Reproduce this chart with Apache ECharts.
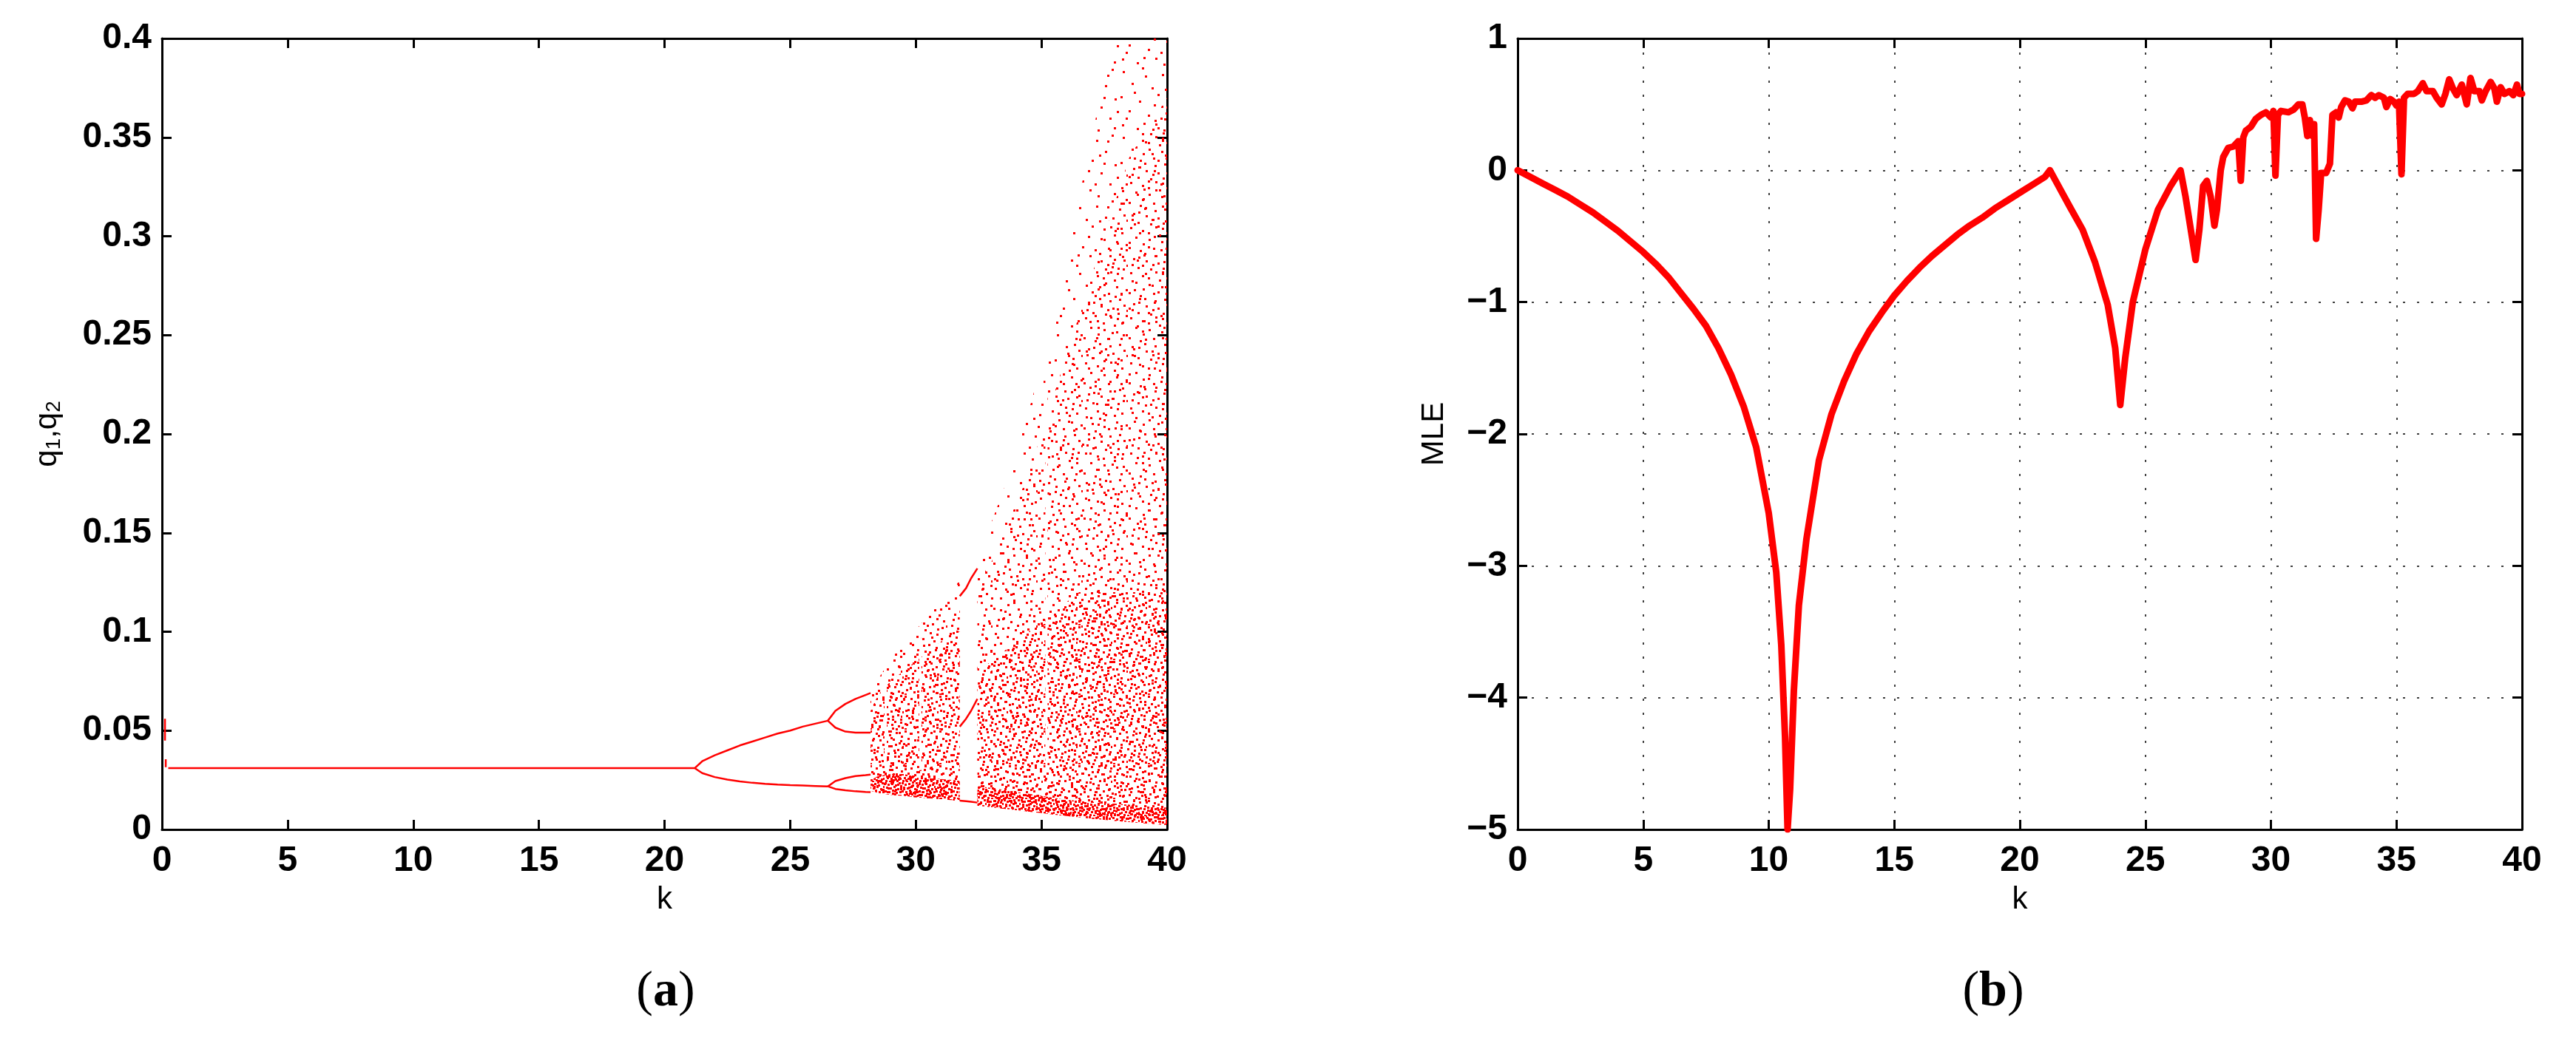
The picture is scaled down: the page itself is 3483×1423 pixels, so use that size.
<!DOCTYPE html>
<html><head><meta charset="utf-8">
<script src="https://cdn.jsdelivr.net/npm/echarts@6/dist/echarts.min.js"></script>
<style>html,body{margin:0;padding:0;background:#fff}#c{width:3483px;height:1423px}</style>
</head><body><div id="c"></div>
<script>
// ================= DATA =================
// (a) bifurcation diagram q1,q2 vs k
const fixedK = [0.25, 21.2];
const fixedQ = [0.031, 0.031];
const transientK = [0.12, 0.12, 0.15, 0.15];
const transientQ = [0.045, 0.056, 0.0315, 0.0355];
const p2K     = [21.2, 21.5, 22, 22.5, 23, 23.5, 24, 24.5, 25, 25.5, 26, 26.5];
const p2Upper = [0.031, 0.0345, 0.0375, 0.040, 0.0425, 0.0445, 0.0465, 0.0485, 0.050, 0.052, 0.0535, 0.055];
const p2Lower = [0.031, 0.0285, 0.0265, 0.0252, 0.0243, 0.0236, 0.0231, 0.0227, 0.0224, 0.0222, 0.0220, 0.0218];
const p4K      = [26.5, 26.8, 27.2, 27.6, 28.0, 28.2];
const p4UpperA = [0.055, 0.060, 0.0635, 0.066, 0.068, 0.069];
const p4UpperB = [0.055, 0.0515, 0.0495, 0.049, 0.049, 0.049];
const p4LowerA = [0.0218, 0.0245, 0.026, 0.027, 0.0275, 0.0278];
const p4LowerB = [0.0218, 0.0205, 0.0198, 0.0193, 0.019, 0.0189];
// chaotic band before the periodic window
const chaosK1     = [28.2, 28.5, 29, 29.5, 30, 30.5, 31, 31.5, 31.75];
const chaosLow1   = [0.0195, 0.0185, 0.0175, 0.017, 0.0163, 0.0158, 0.0152, 0.0148, 0.0146];
const chaosDense1 = [0.025, 0.027, 0.028, 0.028, 0.027, 0.026, 0.0255, 0.025, 0.025];
const chaosMidB1  = [0.060, 0.068, 0.075, 0.080, 0.085, 0.090, 0.095, 0.100, 0.100];
const chaosMidA1  = [0.068, 0.076, 0.086, 0.094, 0.101, 0.108, 0.115, 0.122, 0.126];
const chaosHigh1  = [0.068, 0.076, 0.086, 0.094, 0.101, 0.108, 0.115, 0.122, 0.126];
// chaotic band after the periodic window
const chaosK2     = [32.45, 33, 33.5, 34, 34.5, 35, 35.5, 36, 36.5, 37, 37.5, 38, 38.5, 39, 39.5, 40];
const chaosLow2   = [0.012, 0.0113, 0.0105, 0.0098, 0.009, 0.0083, 0.0075, 0.0068, 0.0062, 0.0055, 0.0049, 0.0043, 0.0037, 0.0032, 0.0027, 0.0022];
const chaosDense2 = [0.022, 0.021, 0.020, 0.019, 0.018, 0.017, 0.016, 0.015, 0.0145, 0.014, 0.0135, 0.013, 0.0125, 0.012, 0.0115, 0.011];
const chaosMidB2  = [0.080, 0.085, 0.090, 0.095, 0.100, 0.105, 0.110, 0.115, 0.120, 0.120, 0.120, 0.120, 0.120, 0.120, 0.120, 0.120];
const chaosMidA2  = [0.125, 0.135, 0.150, 0.165, 0.180, 0.200, 0.220, 0.240, 0.260, 0.280, 0.300, 0.320, 0.340, 0.350, 0.360, 0.370];
const chaosHigh2  = [0.140, 0.155, 0.172, 0.190, 0.212, 0.235, 0.260, 0.290, 0.320, 0.350, 0.380, 0.400, 0.400, 0.400, 0.400, 0.400];
// narrow periodic windows inside the chaotic band (k, upper q of the gap)
const gapK   = [28.8, 30.18, 35.2];
const gapTop = [0.085, 0.105, 0.24];
// main periodic window branches
const windowK    = [31.75, 32.0, 32.2, 32.45];
const windowLow  = [0.0146, 0.0143, 0.014, 0.0136];
const windowMid  = [0.052, 0.056, 0.060, 0.066];
const windowHigh = [0.118, 0.122, 0.127, 0.132];

// (b) maximal Lyapunov exponent vs k
const mleK = [0,0.5,1,1.5,2,2.5,3,3.5,4,4.5,5,5.5,6,6.5,7,7.5,8,8.5,9,9.5,
  10,10.3,10.5,10.65,10.75,10.85,11,11.2,11.5,12,12.5,13,13.5,14,14.5,15,15.5,16,16.5,17,
  17.5,18,18.5,19,19.5,20,20.5,21,21.2,
  21.6,22,22.5,23,23.5,23.8,24,24.2,24.5,25,25.5,26,26.4,
  26.6,26.85,27.0,27.15,27.3,27.45,27.6,27.75,27.85,28.0,
  28.1,28.3,28.5,28.7,28.8,28.9,29.0,29.2,29.4,29.6,
  29.8,30.0,30.1,30.18,30.28,30.4,30.7,30.9,31.1,31.25,
  31.35,31.45,31.55,31.65,31.72,31.8,31.9,32.0,32.2,32.35,
  32.45,32.6,32.7,32.8,32.95,33.1,33.25,33.35,33.6,33.8,
  34.0,34.15,34.3,34.5,34.6,34.75,34.9,35.0,35.1,35.2,
  35.3,35.45,35.7,35.85,36.05,36.2,36.45,36.6,36.8,36.95,
  37.1,37.25,37.4,37.6,37.8,37.95,38.1,38.3,38.4,38.55,
  38.75,38.9,39.0,39.15,39.3,39.5,39.65,39.8,39.9,40];
const mleV = [0,-0.05,-0.10,-0.15,-0.20,-0.26,-0.32,-0.39,-0.46,-0.54,-0.62,-0.71,-0.81,-0.93,-1.05,-1.18,-1.35,-1.55,-1.79,-2.10,
  -2.60,-3.05,-3.60,-4.30,-5.00,-4.70,-3.95,-3.30,-2.80,-2.20,-1.85,-1.60,-1.39,-1.22,-1.08,-0.95,-0.84,-0.74,-0.65,-0.57,
  -0.49,-0.42,-0.36,-0.29,-0.23,-0.17,-0.11,-0.05,0.00,
  -0.14,-0.28,-0.45,-0.70,-1.02,-1.35,-1.78,-1.42,-1.00,-0.60,-0.30,-0.12,0.00,
  -0.20,-0.50,-0.68,-0.45,-0.12,-0.08,-0.20,-0.42,-0.30,0.00,
  0.10,0.17,0.18,0.22,-0.08,0.25,0.30,0.33,0.39,0.42,
  0.44,0.40,0.45,-0.04,0.42,0.45,0.44,0.46,0.50,0.50,
  0.40,0.26,0.38,0.26,0.35,-0.52,-0.30,-0.02,-0.02,0.05,
  0.42,0.44,0.40,0.48,0.53,0.52,0.47,0.52,0.52,0.53,
  0.57,0.55,0.57,0.55,0.48,0.54,0.52,0.49,0.52,-0.03,
  0.55,0.58,0.58,0.60,0.66,0.60,0.60,0.55,0.50,0.58,
  0.69,0.62,0.57,0.65,0.50,0.70,0.60,0.60,0.53,0.60,
  0.67,0.62,0.52,0.63,0.58,0.60,0.57,0.65,0.58,0.58];

// ================= STYLE =================
const RED = '#ff0000';
const FONT = 'Liberation Sans, Arial, Helvetica, sans-serif';
const SERIF = 'Liberation Serif, Times New Roman, serif';
const zip = (xs, ys) => xs.map((x, i) => [x, ys[i]]);

// dot textures used to shade the chaotic cloud (style only, hand-placed dots)
function makeTile(size, dots, d) {
  const c = document.createElement('canvas');
  c.width = size; c.height = size;
  const g = c.getContext('2d');
  g.fillStyle = RED;
  dots.forEach(p => g.fillRect(p[0], p[1], d, d));
  return c;
}
const tileSparse = makeTile(89, [[5,7],[31,2],[58,11],[79,4],[17,23],[44,29],[70,26],[2,41],[27,47],[52,38],[83,44],
  [13,60],[39,66],[64,55],[76,70],[4,79],[24,84],[49,78],[60,86],[86,61],[35,13],[68,42],
  [20,35],[47,52],[73,12],[9,70],[56,70],[82,83],[33,77],[62,31]], 3);
const tileMidA = makeTile(61, [[3,2],[19,6],[37,1],[52,9],[10,15],[28,18],[45,21],[58,25],[1,29],[16,33],[34,30],
  [49,38],[7,44],[24,47],[40,50],[55,46],[13,56],[30,58],[47,57],[59,53],[20,24],[42,12],[5,52],[36,40],[27,9],
  [51,30],[14,42],[46,3],[33,52],[22,37]], 3);
const tileMidB = makeTile(47, [[1,1],[9,4],[18,2],[27,6],[36,3],[43,8],[5,11],[14,13],[23,15],[32,12],[40,17],[2,20],
  [11,23],[20,25],[29,21],[38,26],[45,22],[6,30],[16,33],[25,31],[34,35],[42,32],[3,39],[13,42],[22,40],[31,44],
  [39,41],[8,36],[28,1],[19,9],[44,43],[35,19],[10,28],[24,36],[1,45]], 3);
const tileDense = makeTile(23, [[0,0],[4,2],[9,1],[14,3],[19,0],[2,6],[7,7],[12,5],[17,8],[21,5],[0,11],[5,12],
  [10,10],[15,13],[20,12],[3,16],[8,17],[13,15],[18,18],[1,20],[6,21],[11,19],[16,20],[21,17],[10,14]], 3);

function band(K, lo, hi, tile) {
  return {
    type: 'custom', xAxisIndex: 0, yAxisIndex: 0, silent: true, clip: true, z: 1,
    data: [[K[0], lo[0]]],
    renderItem: (params, api) => {
      const pts = [];
      for (let i = 0; i < K.length; i++) pts.push(api.coord([K[i], hi[i]]));
      for (let i = K.length - 1; i >= 0; i--) pts.push(api.coord([K[i], lo[i]]));
      return { type: 'polygon', shape: { points: pts }, style: { fill: { image: tile, repeat: 'repeat' }, stroke: null } };
    }
  };
}
// white vertical slits for the small periodic windows
const gapSeries = {
  type: 'custom', xAxisIndex: 0, yAxisIndex: 0, silent: true, clip: true, z: 1.5,
  data: zip(gapK, gapTop),
  renderItem: (params, api) => {
    const top = api.coord([api.value(0), api.value(1)]);
    const bot = api.coord([api.value(0), 0.03]);
    return { type: 'rect', shape: { x: top[0] - 1.5, y: top[1], width: 3, height: bot[1] - top[1] }, style: { fill: '#fff' } };
  }
};
function branch(K, Q) {
  return { type: 'line', xAxisIndex: 0, yAxisIndex: 0, data: zip(K, Q), showSymbol: false, silent: true,
    lineStyle: { color: RED, width: 2.5 }, z: 2 };
}

const tickLabel = { show: true, color: '#000', fontFamily: FONT, fontWeight: 'bold', fontSize: 48 };
function axis(extra, labels, gridIndex) {
  return Object.assign({
    type: 'value', gridIndex: gridIndex,
    axisLine: { show: true, onZero: false, lineStyle: { color: '#000', width: 3 } },
    axisTick: { show: true, inside: true, length: 13, lineStyle: { color: '#000', width: 3 } },
    axisLabel: labels ? labels : { show: false },
    splitLine: { show: false }
  }, extra);
}
const gridLine = { show: true, lineStyle: { color: '#000', width: 1.5, type: [3, 16] } };
const minus = v => String(v).replace('-', '\u2212');
const nameStyle = { fontFamily: FONT, fontSize: 42, color: '#000' };

const option = {
  animation: false,
  backgroundColor: '#fff',
  grid: [
    { left: 219, top: 52, width: 1359, height: 1070 },
    { left: 2052, top: 52, width: 1358, height: 1070 }
  ],
  xAxis: [
    axis({ min: 0, max: 40, interval: 5, position: 'bottom', name: 'k', nameLocation: 'middle', nameGap: 74, nameTextStyle: nameStyle },
      Object.assign({ margin: 19 }, tickLabel), 0),
    axis({ min: 0, max: 40, interval: 5, position: 'top' }, null, 0),
    axis({ min: 0, max: 40, interval: 5, position: 'bottom', name: 'k', nameLocation: 'middle', nameGap: 74, nameTextStyle: nameStyle, splitLine: gridLine },
      Object.assign({ margin: 19 }, tickLabel), 1),
    axis({ min: 0, max: 40, interval: 5, position: 'top' }, null, 1)
  ],
  yAxis: [
    axis({ min: 0, max: 0.4, interval: 0.05, position: 'left', name: '{n|q}{s|1}{n|,q}{s|2}', nameLocation: 'middle', nameGap: 132,
      nameTextStyle: { color: '#000', rich: {
        n: { fontFamily: FONT, fontSize: 42, lineHeight: 46, color: '#000' },
        s: { fontFamily: FONT, fontSize: 28, lineHeight: 18, verticalAlign: 'bottom', color: '#000' } } } },
      Object.assign({ margin: 14 }, tickLabel), 0),
    axis({ min: 0, max: 0.4, interval: 0.05, position: 'right' }, null, 0),
    axis({ min: -5, max: 1, interval: 1, position: 'left', name: 'MLE', nameLocation: 'middle', nameGap: 92,
      nameTextStyle: nameStyle, splitLine: gridLine },
      Object.assign({ margin: 14, formatter: minus }, tickLabel), 1),
    axis({ min: -5, max: 1, interval: 1, position: 'right' }, null, 1)
  ],
  series: [
    band(chaosK1, chaosLow1, chaosHigh1, tileSparse),
    band(chaosK1, chaosLow1, chaosMidA1, tileMidA),
    band(chaosK1, chaosLow1, chaosMidB1, tileMidB),
    band(chaosK1, chaosLow1, chaosDense1, tileDense),
    band(chaosK2, chaosLow2, chaosHigh2, tileSparse),
    band(chaosK2, chaosLow2, chaosMidA2, tileMidA),
    band(chaosK2, chaosLow2, chaosMidB2, tileMidB),
    band(chaosK2, chaosLow2, chaosDense2, tileDense),
    gapSeries,
    branch(fixedK, fixedQ),
    branch(transientK.slice(0, 2), transientQ.slice(0, 2)),
    branch(transientK.slice(2), transientQ.slice(2)),
    branch(p2K, p2Upper), branch(p2K, p2Lower),
    branch(p4K, p4UpperA), branch(p4K, p4UpperB), branch(p4K, p4LowerA), branch(p4K, p4LowerB),
    branch(windowK, windowLow), branch(windowK, windowMid), branch(windowK, windowHigh),
    { type: 'line', xAxisIndex: 2, yAxisIndex: 2, data: zip(mleK, mleV), showSymbol: false, silent: true, z: 3,
      lineStyle: { color: RED, width: 9, join: 'round', cap: 'round' } }
  ],
  graphic: [
    { type: 'text', x: 900, y: 1342, style: { text: '{p|(}{b|a}{p|)}', align: 'center', verticalAlign: 'middle',
      rich: { p: { fontFamily: SERIF, fontSize: 68, fill: '#000' }, b: { fontFamily: SERIF, fontSize: 68, fontWeight: 'bold', fill: '#000' } } } },
    { type: 'text', x: 2695, y: 1342, style: { text: '{p|(}{b|b}{p|)}', align: 'center', verticalAlign: 'middle',
      rich: { p: { fontFamily: SERIF, fontSize: 68, fill: '#000' }, b: { fontFamily: SERIF, fontSize: 68, fontWeight: 'bold', fill: '#000' } } } }
  ]
};
const chart = echarts.init(document.getElementById('c'), null, { renderer: 'canvas' });
chart.setOption(option);
</script>
</body></html>
